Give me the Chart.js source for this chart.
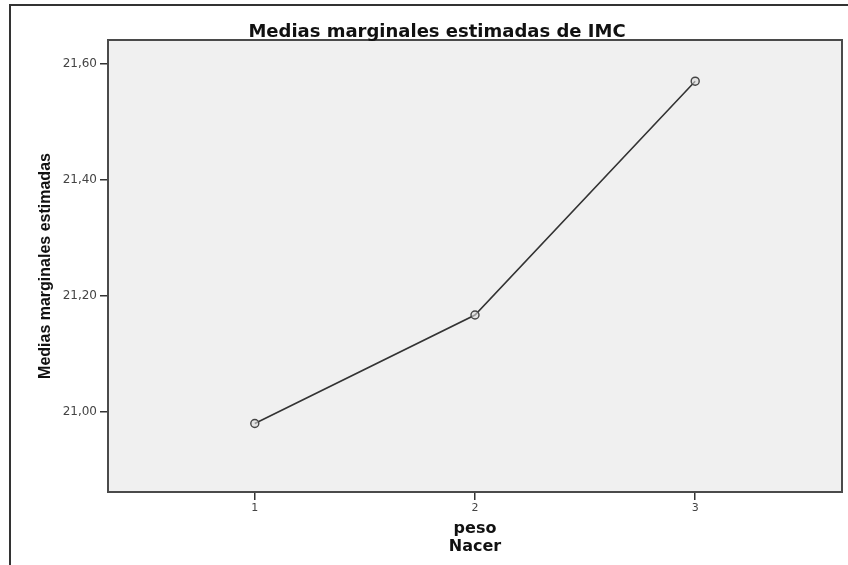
<!DOCTYPE html>
<html>
<head>
<meta charset="utf-8">
<script src="https://cdn.jsdelivr.net/npm/chart.js@4"></script>
<style>
  html, body { margin: 0; padding: 0; background: #fff; }
  #wrap { width: 848px; height: 565px; position: relative; }
</style>
</head>
<body>
<div id="wrap"><canvas id="c"></canvas></div>
<script>
const chartTitle = 'Medias marginales estimadas de IMC';
const yAxisTitle = 'Medias marginales estimadas';
const xAxisTitle = ['peso', 'Nacer'];
const categories = [1, 2, 3];
const meanValues = [20.98, 21.167, 21.57];
const yTickValues = [21.0, 21.2, 21.4, 21.6];
const xTickValues = [1, 2, 3];

const decorPlugin = {
  id: 'decor',
  beforeDraw(chart) {
    const {ctx, chartArea: a} = chart;
    ctx.save();
    ctx.fillStyle = '#f0f0f0';
    ctx.fillRect(a.left, a.top, a.right - a.left, a.bottom - a.top);
    ctx.restore();
  },
  afterDraw(chart) {
    const {ctx, chartArea: a, width, height} = chart;
    ctx.save();
    ctx.strokeStyle = '#4a4a4a';
    ctx.lineWidth = 2;
    ctx.strokeRect(a.left, a.top, a.right - a.left, a.bottom - a.top);
    // outer frame
    ctx.strokeStyle = '#333';
    ctx.lineWidth = 2;
    ctx.beginPath();
    ctx.moveTo(10, height);
    ctx.lineTo(10, 5);
    ctx.lineTo(width, 5);
    ctx.stroke();
    // title
    ctx.fillStyle = '#111';
    ctx.font = 'bold 18px "DejaVu Sans", sans-serif';
    ctx.textAlign = 'center';
    ctx.textBaseline = 'alphabetic';
    ctx.fillText(chartTitle, 437, 37);
    ctx.restore();
  }
};

new Chart(document.getElementById('c'), {
  type: 'line',
  data: {
    datasets: [{
      data: categories.map((c, i) => ({x: c, y: meanValues[i]})),
      borderColor: '#333',
      borderWidth: 1.6,
      pointRadius: 4,
      pointBorderWidth: 1.4,
      pointBorderColor: '#444',
      pointBackgroundColor: 'rgba(220,220,220,0.6)',
      tension: 0,
      fill: false
    }]
  },
  options: {
    responsive: true,
    maintainAspectRatio: false,
    animation: false,
    layout: { padding: { left: 0, top: 40, right: 6, bottom: 0 } },
    plugins: { legend: { display: false }, tooltip: { enabled: false }, title: { display: false } },
    scales: {
      x: {
        type: 'linear',
        min: 1 / 3,
        max: 11 / 3,
        afterBuildTicks(s) { s.ticks = xTickValues.map(v => ({value: v})); },
        afterFit(s) { s.height = 73; },
        grid: { drawOnChartArea: false, drawTicks: true, tickLength: 8, color: '#333', lineWidth: 1.5 },
        border: { display: false },
        ticks: {
          color: '#444',
          font: { family: '"DejaVu Sans", sans-serif', size: 11 },
          padding: 2,
          maxRotation: 0,
          callback: v => String(v)
        },
        title: {
          display: true,
          text: xAxisTitle,
          color: '#111',
          font: { family: '"DejaVu Sans", sans-serif', size: 16, weight: 'bold', lineHeight: 1.1 },
          padding: { top: 0, bottom: 9.6 }
        }
      },
      y: {
        type: 'linear',
        min: 20.862,
        max: 21.641,
        afterBuildTicks(s) { s.ticks = yTickValues.map(v => ({value: v})); },
        afterFit(s) { s.width = 108; },
        grid: { drawOnChartArea: false, drawTicks: true, tickLength: 8, color: '#333', lineWidth: 1.5 },
        border: { display: false },
        ticks: {
          color: '#444',
          font: { family: '"DejaVu Sans", sans-serif', size: 12 },
          padding: 3,
          callback: v => Number(v).toFixed(2).replace('.', ',')
        },
        title: {
          display: true,
          text: yAxisTitle,
          color: '#111',
          font: { family: '"Liberation Sans", Arial, sans-serif', size: 16, weight: 'bold', lineHeight: 1.2 },
          padding: { top: 36, bottom: 0 }
        }
      }
    }
  },
  plugins: [decorPlugin]
});
</script>
</body>
</html>
